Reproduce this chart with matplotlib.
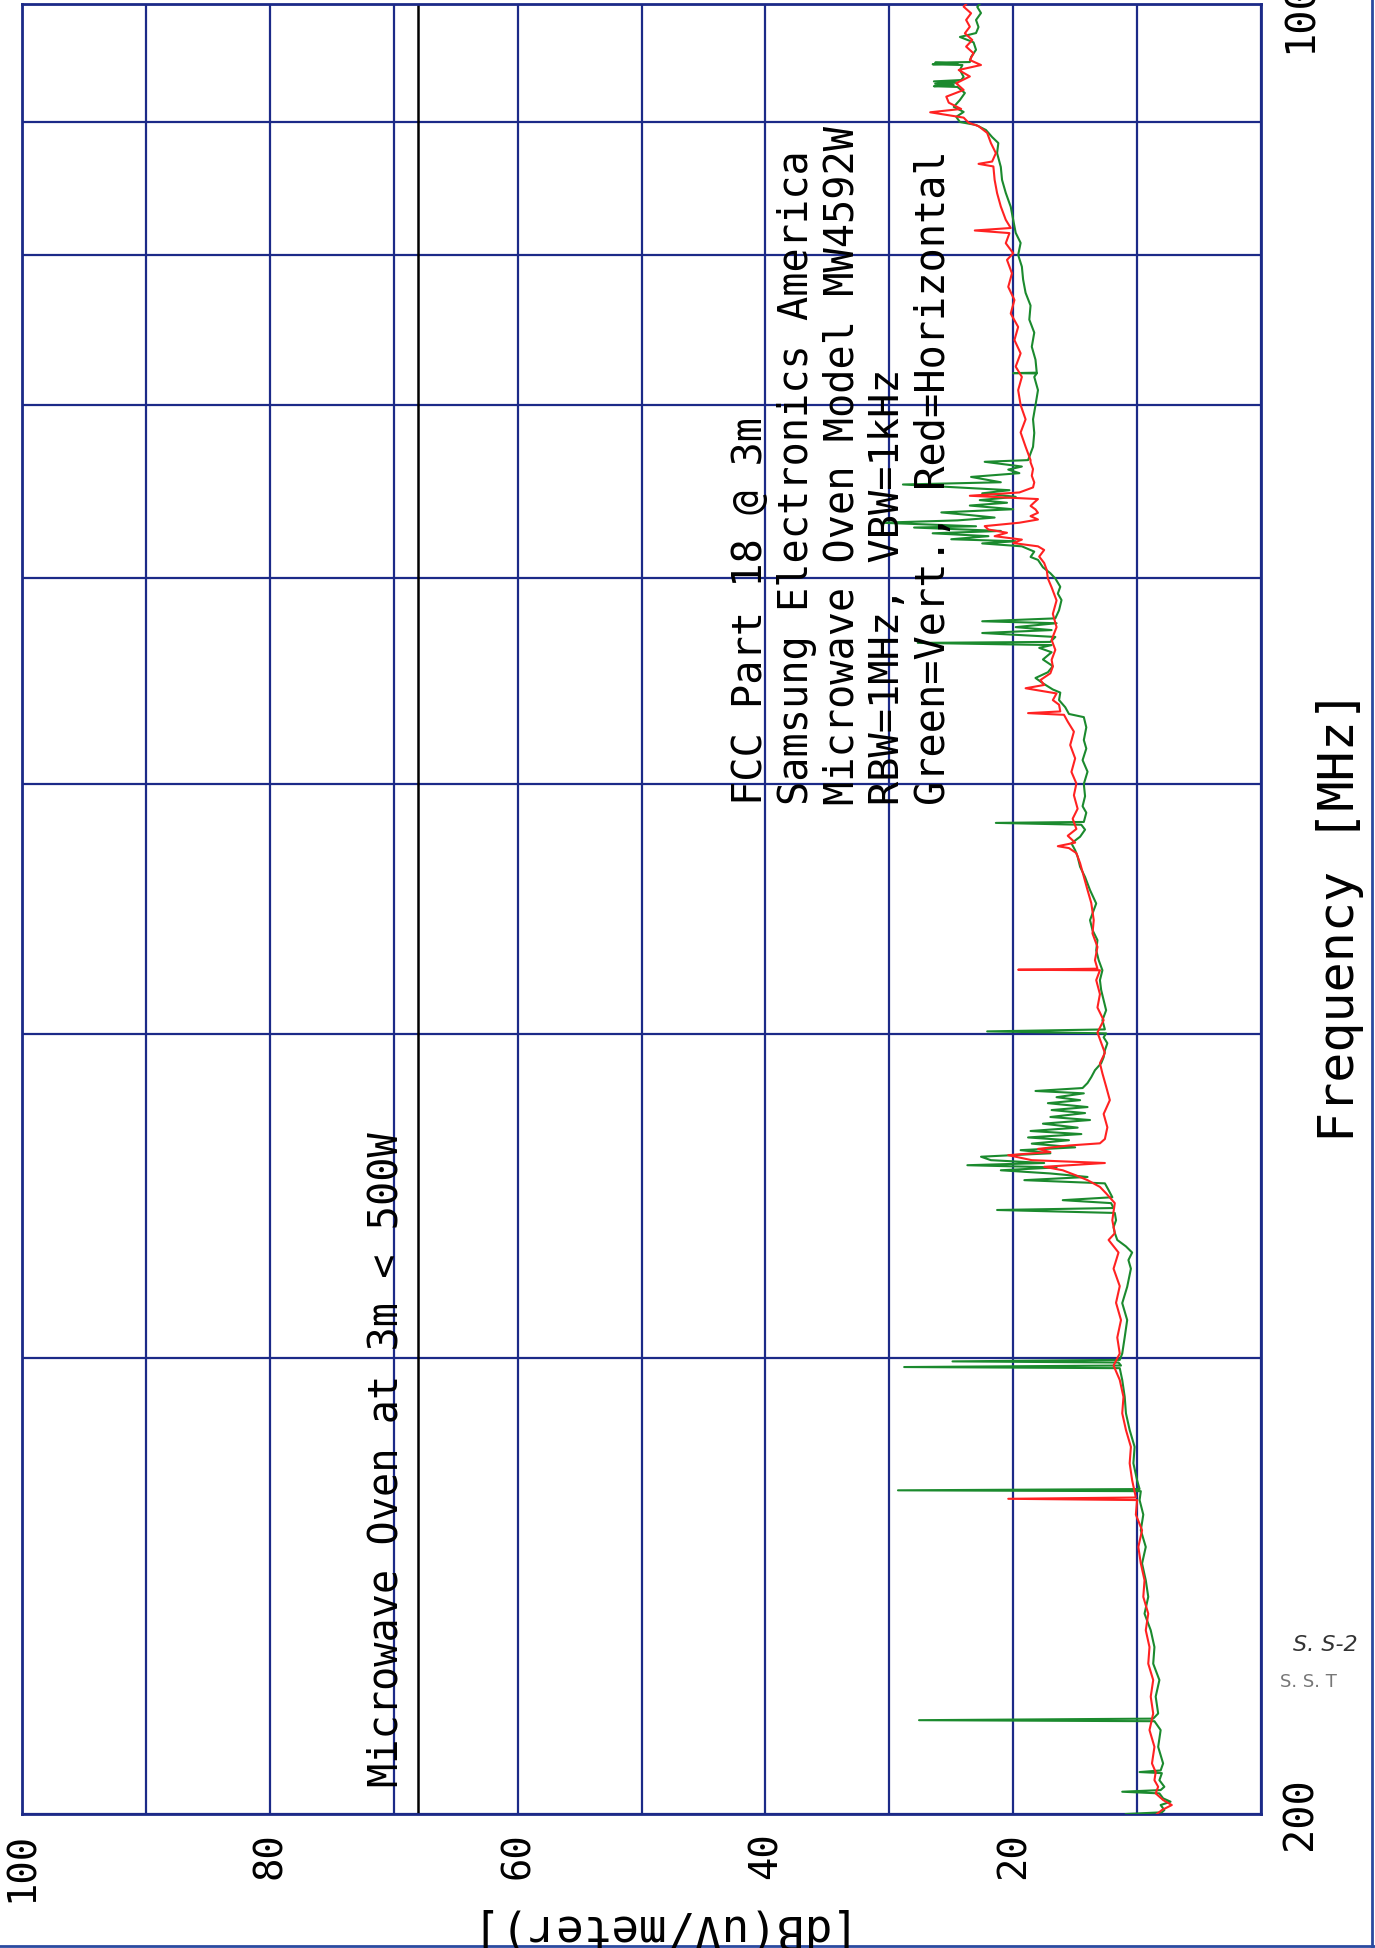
import matplotlib
matplotlib.use("Agg")
import matplotlib.pyplot as plt
from matplotlib.lines import Line2D

# ---- data (frequency in MHz, level in dB(uV/m)) ----
green_freq = [200.0, 200.3, 200.7, 201.6, 202.2, 202.8, 203.7, 204.0, 204.3, 204.9, 206.1, 207.4, 207.6, 207.9,
              209.2, 212.3, 215.5, 217.2, 217.4, 217.7, 218.7, 222.0, 225.3, 228.6, 232.0, 235.5, 239.0, 242.6,
              246.2, 249.9, 253.6, 257.4, 261.0, 264.4, 266.5, 266.7, 267.0, 269.1, 273.2, 277.2, 281.4, 285.6,
              289.8, 294.2, 297.3, 297.6, 298.0, 298.8, 299.1, 299.5, 301.2, 305.6, 310.3, 315.0, 319.6, 324.8,
              327.3, 329.5, 331.3, 333.2, 335.3, 337.0, 339.1, 341.3, 342.2, 342.8, 344.3, 345.2, 346.1, 348.3,
              350.4, 351.4, 352.4, 353.5, 354.5, 355.4, 356.1, 356.8, 357.7, 358.8, 359.9, 360.9, 361.8, 363.0,
              364.1, 365.0, 366.1, 367.1, 368.2, 369.5, 370.7, 371.7, 373.0, 374.0, 375.0, 376.3, 377.3, 378.3,
              379.6, 380.4, 381.4, 383.1, 385.1, 387.5, 389.9, 392.0, 394.4, 396.9, 399.0, 400.4, 401.1, 401.8,
              405.1, 408.7, 412.4, 416.1, 419.8, 423.5, 427.3, 431.1, 435.0, 438.9, 442.8, 449.4, 454.8, 460.1,
              464.3, 468.5, 471.2, 474.1, 476.9, 479.9, 482.0, 482.8, 483.2, 487.2, 490.0, 494.4, 499.8, 505.3,
              510.5, 515.8, 519.7, 525.6, 530.4, 531.9, 535.1, 538.5, 542.1, 543.6, 546.6, 549.2, 552.0, 555.0,
              558.3, 561.9, 564.1, 565.5, 566.6, 567.1, 569.6, 571.6, 573.1, 574.6, 576.6, 577.6, 579.1, 583.3,
              588.6, 592.0, 595.6, 600.0, 602.8, 606.0, 610.0, 611.6, 614.5, 617.4, 619.0, 620.2, 621.3, 623.0,
              624.6, 625.9, 627.8, 628.5, 630.5, 631.8, 633.4, 634.8, 636.3, 638.1, 640.2, 641.8, 643.3, 645.2,
              647.2, 649.0, 652.3, 653.6, 656.7, 658.9, 661.0, 662.8, 665.6, 666.6, 674.5, 682.9, 691.2, 700.0,
              709.4, 717.8, 720.0, 720.2, 720.5, 728.8, 737.3, 746.6, 755.3, 764.8, 773.5, 782.7, 791.7, 800.0,
              808.6, 815.9, 825.4, 835.0, 845.4, 855.2, 865.1, 875.8, 883.7, 888.4, 894.0, 898.0, 900.4, 904.5,
              908.5, 912.6, 918.2, 923.9, 928.9, 929.5, 930.5, 931.5, 932.5, 933.5, 934.6, 937.2, 943.0, 947.2,
              947.8, 948.5, 949.2, 949.7, 954.0, 960.1, 966.5, 971.1, 974.5, 979.7, 985.9, 992.0, 997.4, 1000.0]
green_db = [10.9, 8.0, 7.8, 8.1, 7.3, 7.9, 8.2, 11.2, 8.1, 7.8, 8.2, 8.0, 9.8, 8.1,
            7.9, 8.3, 8.1, 8.6, 27.6, 8.7, 8.3, 8.5, 8.2, 8.7, 8.6, 8.9, 9.4, 9.1,
            9.3, 9.6, 9.3, 9.7, 9.5, 9.8, 9.7, 29.3, 9.8, 10.0, 10.3, 10.2, 10.6, 10.9,
            11.0, 11.2, 11.4, 28.8, 11.3, 11.5, 24.9, 11.4, 11.2, 11.0, 10.8, 11.2, 10.8, 10.5,
            10.7, 10.4, 10.9, 11.6, 11.8, 11.9, 11.7, 11.8, 21.3, 11.9, 12.1, 16.0, 12.0, 12.3,
            12.6, 19.1, 14.0, 17.0, 21.0, 16.5, 23.7, 17.5, 21.8, 22.6, 17.0, 19.4, 15.0, 18.5,
            15.5, 18.8, 14.5, 18.6, 14.8, 17.6, 13.8, 17.0, 14.2, 16.9, 14.0, 17.2, 14.6, 16.5,
            14.3, 18.2, 14.4, 14.0, 13.7, 13.4, 12.9, 12.7, 12.6, 12.4, 12.7, 12.5, 22.1, 12.6,
            12.8, 12.5, 12.7, 12.9, 13.0, 12.8, 13.1, 13.3, 13.2, 13.6, 13.8, 13.3, 13.8, 14.2,
            14.6, 14.8, 15.0, 15.3, 14.6, 14.2, 14.5, 21.4, 14.3, 14.1, 14.4, 14.2, 14.3, 14.0,
            14.4, 14.1, 14.3, 14.1, 14.3, 15.5, 15.8, 16.3, 16.2, 16.8, 17.6, 18.2, 17.2, 16.8,
            17.6, 16.9, 17.9, 16.9, 27.7, 17.0, 16.6, 22.5, 16.9, 19.8, 16.5, 22.5, 16.6, 16.3,
            16.1, 16.4, 16.2, 16.6, 17.0, 17.6, 18.0, 18.6, 18.3, 19.3, 22.5, 19.8, 25.0, 22.0,
            26.5, 21.0, 28.0, 23.0, 30.7, 24.5, 21.5, 23.5, 25.8, 20.0, 23.5, 20.5, 22.7, 19.8,
            22.5, 20.3, 28.9, 21.0, 23.4, 19.5, 20.4, 19.3, 22.3, 18.8, 18.4, 18.3, 18.4, 18.2,
            18.0, 18.3, 18.1, 20.0, 18.1, 18.2, 18.5, 18.3, 18.7, 18.6, 19.0, 19.2, 19.3, 19.6,
            19.4, 19.8, 20.0, 20.2, 20.6, 20.9, 21.0, 21.3, 21.2, 21.7, 22.2, 23.0, 24.3, 24.6,
            24.0, 24.8, 24.3, 23.9, 24.5, 26.4, 24.8, 26.3, 24.5, 26.4, 24.2, 24.0, 24.3, 24.1,
            26.5, 24.5, 26.3, 23.5, 23.4, 23.0, 23.2, 24.3, 23.0, 22.8, 23.0, 22.6, 22.9, 22.7]

red_freq = [200.0, 200.7, 201.6, 202.5, 203.7, 204.9, 206.1, 207.6, 209.2, 212.3, 215.5, 218.7, 222.0, 225.3,
            228.6, 232.0, 235.5, 239.0, 242.6, 246.2, 249.9, 253.6, 257.4, 261.0, 264.4, 264.7, 265.0, 269.1,
            273.2, 277.2, 281.4, 285.6, 289.8, 294.2, 298.0, 301.2, 305.5, 310.3, 315.1, 319.8, 324.8, 329.5,
            333.2, 335.2, 339.1, 344.3, 347.3, 349.3, 351.4, 353.0, 354.5, 355.6, 356.8, 357.7, 359.3, 360.3,
            361.3, 362.4, 363.1, 364.5, 368.3, 372.7, 377.3, 381.9, 386.4, 389.9, 393.5, 397.1, 400.7, 405.1,
            409.7, 414.6, 419.8, 423.5, 423.7, 424.1, 427.3, 432.4, 437.6, 442.8, 449.6, 454.8, 460.3, 465.8,
            470.0, 472.1, 472.9, 474.4, 477.3, 480.2, 484.6, 488.9, 494.8, 500.0, 505.2, 511.3, 517.4, 523.6,
            528.3, 531.5, 532.3, 533.1, 536.3, 538.5, 541.7, 544.2, 545.8, 548.2, 551.5, 554.8, 558.1, 563.1,
            568.1, 574.6, 581.4, 588.4, 595.3, 600.0, 604.7, 608.3, 611.8, 615.4, 617.4, 619.2, 621.1, 623.0,
            624.9, 626.7, 628.6, 630.5, 632.3, 634.2, 636.1, 638.0, 640.0, 642.0, 643.9, 645.8, 647.7, 650.6,
            653.5, 657.4, 661.3, 665.3, 666.6, 674.6, 683.2, 691.2, 700.0, 709.4, 717.8, 724.4, 733.0, 741.7,
            750.4, 759.4, 768.6, 777.6, 787.0, 796.5, 801.2, 808.4, 815.7, 817.6, 819.4, 825.4, 835.2, 845.2,
            855.3, 865.5, 867.5, 869.3, 875.8, 883.7, 891.7, 897.1, 899.8, 903.9, 908.2, 910.9, 916.0, 920.9,
            926.4, 932.0, 937.6, 943.0, 947.2, 951.4, 957.1, 962.8, 968.5, 974.3, 980.0, 985.9, 991.8, 997.6,
            1000.0]
red_db = [8.4, 8.0, 7.2, 7.9, 8.5, 8.3, 8.6, 8.5, 8.8, 8.6, 9.0, 8.7, 8.9, 8.7,
          9.1, 9.0, 9.3, 9.1, 9.5, 9.4, 9.7, 9.9, 9.6, 10.1, 10.0, 20.4, 10.1, 10.4,
          10.6, 10.5, 10.9, 11.2, 11.1, 11.4, 11.9, 11.4, 11.6, 11.3, 11.7, 11.4, 11.9, 11.5,
          12.3, 11.8, 12.0, 11.8, 12.5, 13.0, 14.0, 15.0, 16.0, 17.5, 12.6, 18.5, 20.4, 17.0,
          18.0, 15.5, 13.0, 12.6, 12.4, 12.7, 12.2, 12.5, 12.8, 13.0, 12.6, 12.9, 13.2, 12.7,
          13.2, 13.0, 13.3, 13.0, 19.6, 13.2, 13.4, 13.2, 13.6, 13.5, 13.7, 14.0, 14.3, 14.6,
          14.9, 15.5, 16.4, 15.0, 15.6, 14.9, 15.2, 14.8, 15.1, 14.9, 15.3, 15.0, 15.4, 15.1,
          15.6, 15.9, 18.8, 16.2, 16.3, 16.8, 16.5, 19.0, 17.5, 17.8, 17.0, 16.8, 16.9, 16.6,
          16.9, 16.5, 16.8, 16.5, 16.9, 17.2, 17.3, 17.5, 17.9, 17.5, 18.0, 20.0, 19.3, 21.5,
          20.5, 22.0, 22.3, 19.5, 18.0, 18.6, 18.0, 18.2, 18.6, 18.3, 18.0, 23.5, 19.5, 18.4,
          18.3, 18.5, 18.4, 18.6, 18.6, 19.0, 19.4, 19.0, 19.4, 19.6, 19.3, 19.8, 19.4, 19.9,
          19.6, 20.2, 19.9, 20.4, 20.1, 20.5, 20.0, 20.6, 20.3, 23.1, 20.2, 20.6, 21.0, 21.3,
          21.5, 21.6, 22.8, 21.7, 21.4, 21.8, 22.1, 22.8, 23.6, 24.0, 26.7, 24.2, 25.2, 25.4,
          24.0, 24.6, 23.5, 24.4, 22.6, 23.5, 23.2, 23.8, 23.3, 23.9, 23.5, 23.8, 23.4, 24.0,
          23.8]

limit_db = 68
limit_text = "Microwave Oven at 3m < 500W"
db_ticks = [0, 10, 20, 30, 40, 50, 60, 70, 80, 90, 100]
db_tick_labels = ["", "", "20", "", "40", "", "60", "", "80", "", "100"]
freq_ticks = [200, 300, 400, 500, 600, 700, 800, 900, 1000]
freq_tick_labels = ["200", "", "", "", "", "", "", "", "1000"]
info_lines = ["FCC Part 18 @ 3m",
              "Samsung Electronics America",
              "Microwave Oven Model MW4592W",
              "RBW=1MHz, VBW=1kHz",
              "Green=Vert., Red=Horizontal"]

W, H = 1375, 1948
NAVY = "#1c2a88"
GREEN = "#1b8a2e"
RED = "#ff2222"
MONO = "DejaVu Sans Mono"

fig = plt.figure(figsize=(W / 100, H / 100), dpi=100)
fig.patch.set_facecolor("white")

# plot area in pixels: dB 100..0 from x=22 to 1261, 1000..200 MHz from y=4 to 1814
ax = fig.add_axes([22 / W, 1 - 1814 / H, (1261 - 22) / W, (1814 - 4) / H])
ax.set_xlim(100, 0)
ax.set_yscale("log")
ax.set_ylim(200, 1000)

ax.plot(green_db, green_freq, color=GREEN, lw=1.5, zorder=3)
ax.plot(red_db, red_freq, color=RED, lw=1.5, zorder=3)
ax.axvline(limit_db, color="black", lw=1.8, zorder=2)

ax.text(69.7, 204.8, limit_text, rotation=90, rotation_mode="anchor",
        ha="left", va="baseline", family=MONO, fontsize=29, color="black")

# grid and frame
ax.set_xticks(db_ticks)
ax.set_xticklabels(db_tick_labels, rotation=90, family=MONO, fontsize=28)
ax.yaxis.tick_right()
ax.set_yticks(freq_ticks)
ax.yaxis.set_minor_locator(matplotlib.ticker.NullLocator())
ax.set_yticklabels(freq_tick_labels, rotation=90, va="center", family=MONO, fontsize=29)
ax.tick_params(axis="x", length=0, pad=13)
ax.tick_params(axis="y", length=0, pad=14)
ax.grid(True, color=NAVY, lw=1.6, zorder=1)
for sp in ax.spines.values():
    sp.set_color(NAVY)
    sp.set_linewidth(2.0)

# info block (rotated text lines)
box_x = [751, 797, 842, 888, 934]
for xp, line in zip(box_x, info_lines):
    fig.text(xp / W, 1 - 805 / H, line, rotation=90, rotation_mode="anchor",
             ha="left", va="center", family=MONO, fontsize=29, color="black")

# axis titles
fig.text(645 / W, 1 - 1927 / H, "[dB(uV/meter)]", rotation=180, ha="center", va="center",
         family=MONO, fontsize=33, color="black")
fig.text(1340 / W, 1 - 916 / H, "Frequency [MHz]", rotation=90, ha="center", va="center",
         family=MONO, fontsize=36, color="black")

# signature marks at the page edge
fig.text(1293 / W, 1 - 1645 / H, "S. S-2", fontsize=16, style="italic", color="#333333",
         ha="left", va="center")
fig.text(1280 / W, 1 - 1682 / H, "S. S. T", fontsize=13, color="#777777", ha="left", va="center")

# page edge lines of the scan
fig.add_artist(Line2D([1372 / W, 1372 / W], [0, 1], color="#2a4aa0", lw=2))
fig.add_artist(Line2D([0, 1], [1 - 1946 / H, 1 - 1946 / H], color="#2a4aa0", lw=2))

fig.savefig("out.png", dpi=100, facecolor="white")
